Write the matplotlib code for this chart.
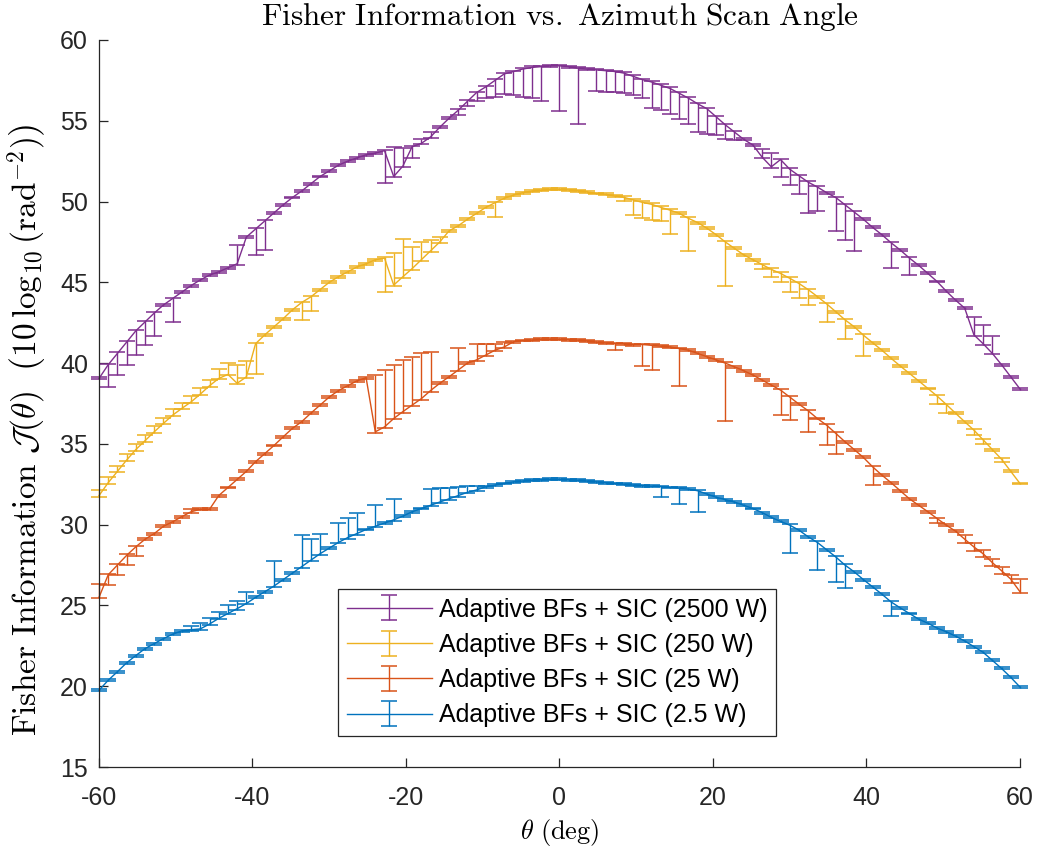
import numpy as np
import matplotlib.pyplot as plt

plt.rcParams['font.family'] = ['Liberation Sans', 'DejaVu Sans']
plt.rcParams['mathtext.fontset'] = 'cm'
plt.rcParams['axes.unicode_minus'] = False

# azimuth scan grid (deg)
theta = np.linspace(-60, 60, 101)

# mean Fisher information, 10log10(rad^-2)
fi_2500 = [39.05, 39.9, 40.6, 41.3, 42.0, 42.55, 43.1, 43.6, 44.0, 44.4,
           44.8, 45.15, 45.45, 45.65, 45.9, 46.15, 47.8, 48.3, 48.8, 49.3,
           49.8, 50.25, 50.65, 51.1, 51.55, 51.9, 52.25, 52.5, 52.7, 52.9,
           53.0, 53.15, 51.55, 52.2, 53.4, 53.6, 54.0, 54.6, 55.15, 55.65,
           56.2, 56.75, 57.1, 57.5, 57.9, 58.05, 58.2, 58.3, 58.35, 58.4,
           58.4, 58.35, 58.25, 58.2, 58.15, 58.1, 58.05, 57.95, 57.75, 57.55,
           57.4, 57.2, 57.0, 56.7, 56.4, 56.05, 55.75, 55.25, 54.75, 54.3,
           53.85, 53.5, 52.75, 52.15, 52.6, 52.0, 51.6, 51.2, 50.9, 50.55,
           50.25, 49.8, 49.35, 48.9, 48.4, 47.95, 47.45, 47.0, 46.5, 46.05,
           45.55, 45.05, 44.45, 43.9, 43.4, 41.75, 41.2, 40.6, 39.9, 39.15,
           38.4]
fi_250 = [31.8, 32.6, 33.3, 34.0, 34.65, 35.2, 35.75, 36.27, 36.78, 37.2,
          37.6, 38.08, 38.6, 39.05, 39.3, 38.75, 39.15, 41.2, 41.75, 42.25,
          42.75, 43.3, 43.75, 44.1, 44.55, 45.0, 45.35, 45.65, 45.95, 46.15,
          46.4, 46.5, 44.83, 45.35, 45.85, 46.4, 46.95, 47.5, 48.18, 48.5,
          48.9, 49.27, 49.64, 49.93, 50.2, 50.4, 50.55, 50.65, 50.7, 50.75,
          50.75, 50.72, 50.67, 50.6, 50.5, 50.45, 50.34, 50.26, 50.1, 49.95,
          49.83, 49.64, 49.47, 49.27, 48.96, 48.7, 48.35, 47.95, 47.5, 47.1,
          46.7, 46.4, 46.1, 45.8, 45.55, 45.25, 44.93, 44.55, 44.12, 43.67,
          43.18, 42.68, 42.25, 41.73, 41.26, 40.8, 40.3, 39.82, 39.36, 38.9,
          38.43, 37.96, 37.44, 36.9, 36.37, 35.85, 35.25, 34.65, 34.05, 33.3,
          32.55]
fi_25 = [25.5, 26.9, 27.5, 28.1, 28.63, 29.1, 29.45, 29.9, 30.18, 30.5,
         30.8, 30.95, 30.95, 31.8, 32.3, 32.8, 33.3, 33.9, 34.4, 34.9,
         35.44, 35.96, 36.37, 36.9, 37.4, 37.9, 38.3, 38.6, 38.9, 39.1,
         35.75, 36.05, 36.57, 37.0, 37.4, 37.8, 38.3, 38.75, 39.15, 39.57,
         40.0, 40.2, 40.5, 40.8, 41.0, 41.32, 41.4, 41.42, 41.47, 41.47,
         41.47, 41.45, 41.42, 41.38, 41.3, 41.25, 41.2, 41.2, 41.15, 41.15,
         41.1, 41.05, 41.0, 40.9, 40.8, 40.6, 40.4, 40.2, 40.0, 39.77,
         39.53, 39.26, 38.95, 38.64, 38.33, 37.9, 37.46, 37.05, 36.57, 36.16,
         35.65, 35.13, 34.65, 34.16, 33.58, 33.07, 32.6, 32.1, 31.6, 31.2,
         30.8, 30.38, 29.97, 29.6, 29.1, 28.62, 28.2, 27.65, 27.15, 26.63,
         25.85]
fi_2p5 = [19.75, 20.37, 20.9, 21.45, 21.9, 22.33, 22.64, 22.95, 23.22, 23.43,
          23.5, 23.55, 23.85, 24.2, 24.5, 24.8, 25.12, 25.5, 25.85, 26.2,
          26.6, 27.0, 27.4, 27.8, 28.2, 28.55, 28.9, 29.2, 29.45, 29.7,
          29.9, 30.1, 30.3, 30.53, 30.8, 31.0, 31.2, 31.4, 31.6, 31.8,
          32.0, 32.15, 32.35, 32.45, 32.55, 32.65, 32.7, 32.75, 32.78, 32.8,
          32.8, 32.78, 32.75, 32.7, 32.65, 32.6, 32.55, 32.5, 32.45, 32.42,
          32.38, 32.35, 32.3, 32.25, 32.2, 32.1, 31.9, 31.7, 31.55, 31.4,
          31.2, 31.0, 30.75, 30.45, 30.2, 29.97, 29.66, 29.25, 28.9, 28.45,
          28.0, 27.5, 27.08, 26.6, 26.15, 25.7, 25.22, 24.85, 24.5, 24.15,
          23.9, 23.6, 23.37, 23.1, 22.8, 22.45, 22.1, 21.6, 21.1, 20.55,
          19.95]

# spread below / above the mean at selected scan indices (dB)
lo_2500 = {1: 1.4, 2: 1.35, 3: 1.4, 4: 1.5, 5: 1.45, 6: 1.45, 8: 1.45,
           17: 1.6, 18: 1.8, 31: 2.0, 34: 0.7, 39: 0.3, 40: 0.3, 41: 0.55,
           42: 0.7, 43: 1.0, 44: 1.25, 45: 1.45, 46: 1.75, 47: 1.9, 48: 2.15,
           50: 2.8, 52: 3.45, 54: 1.3, 55: 1.3, 56: 1.25, 57: 1.25, 58: 1.15,
           59: 1.15, 60: 1.6, 61: 1.55, 62: 1.6, 63: 1.6, 64: 1.6, 65: 1.75,
           66: 1.55, 67: 1.1, 68: 0.85, 69: 0.5, 74: 1.1, 75: 1.0, 76: 1.15,
           77: 1.9, 78: 1.5, 80: 2.1, 81: 2.2, 82: 2.4, 86: 1.55, 88: 1.05}
hi_2500 = {15: 1.15, 32: 1.8, 33: 1.1, 35: 0.25, 36: 0.3, 72: 0.5, 73: 0.85,
           95: 1.1, 96: 1.15, 97: 1.1}
lo_250 = {17: 1.85, 22: 1.1, 23: 0.9, 31: 2.1, 43: 0.87, 57: 0.25, 58: 0.95,
          59: 0.95, 60: 1.0, 61: 0.85, 62: 1.45, 64: 2.0, 68: 2.7, 72: 0.3,
          73: 0.45, 74: 0.55, 75: 0.83, 76: 0.93, 77: 0.96, 79: 1.14,
          81: 1.17, 83: 1.3, 91: 0.5, 92: 0.55, 95: 0.3, 96: 0.25, 98: 0.2}
hi_250 = {0: 0.35, 1: 0.35, 2: 0.35, 3: 0.35, 4: 0.35, 5: 0.35, 6: 0.35,
          7: 0.35, 8: 0.35, 9: 0.35, 10: 0.35, 11: 0.35, 12: 0.35, 13: 0.6,
          14: 0.7, 15: 1.15, 16: 0.95, 32: 2.0, 33: 2.35, 34: 1.35, 35: 1.07,
          36: 0.65, 37: 0.3}
lo_25 = {1: 0.65, 2: 0.6, 3: 0.6, 4: 0.6, 56: 0.4, 59: 1.3, 60: 1.5,
         63: 2.3, 68: 3.6, 74: 1.55, 75: 1.4, 77: 1.3, 79: 1.25, 80: 1.25,
         84: 1.13, 91: 0.3, 94: 0.23, 95: 0.23, 96: 0.23, 97: 0.23,
         98: 0.23, 99: 0.23}
hi_25 = {0: 0.85, 10: 0.2, 30: 3.5, 31: 3.52, 32: 3.3, 33: 3.2, 34: 3.0,
         35: 2.8, 36: 2.4, 39: 1.38, 41: 1.0, 42: 0.7, 43: 0.4, 44: 0.3,
         94: 0.23, 95: 0.23, 96: 0.23, 97: 0.23, 98: 0.23, 99: 0.23,
         100: 0.8}
lo_2p5 = {61: 0.65, 63: 0.95, 65: 1.3, 75: 1.7, 78: 1.7, 80: 1.55, 81: 1.4,
          86: 0.9}
hi_2p5 = {10: 0.2, 11: 0.35, 12: 0.38, 13: 0.4, 14: 0.5, 15: 0.5, 16: 0.7,
          19: 1.55, 22: 1.95, 23: 1.3, 24: 1.25, 26: 1.2, 27: 1.2, 28: 1.3,
          30: 1.3, 32: 1.3, 36: 1.0, 37: 0.85, 38: 0.7, 39: 0.55, 40: 0.4,
          41: 0.25}

labels = ['Adaptive BFs + SIC (2500 W)', 'Adaptive BFs + SIC (250 W)',
          'Adaptive BFs + SIC (25 W)', 'Adaptive BFs + SIC (2.5 W)']
colors = ['#7E2F8E', '#EDB120', '#D95319', '#0072BD']


def spread(spec, n, base=0.06):
    e = np.full(n, base)
    for k, v in spec.items():
        e[k] = v
    return e


series = [(fi_2500, lo_2500, hi_2500), (fi_250, lo_250, hi_250),
          (fi_25, lo_25, hi_25), (fi_2p5, lo_2p5, hi_2p5)]

fig = plt.figure(figsize=(10.41, 8.51), dpi=100)
ax = fig.add_axes([0.0951, 0.0987, 0.8847, 0.8543])

n = len(theta)
for (y, lo, hi), lab, c in zip(series, labels, colors):
    eb = ax.errorbar(theta, y, yerr=[spread(lo, n), spread(hi, n)],
                     color=c, lw=1.0, elinewidth=1.0, capsize=6,
                     capthick=1.1, label=lab)
    eb.lines[0].set_clip_on(False)
    for art in eb.lines[1] + eb.lines[2]:
        art.set_clip_on(False)

ax.set_xlim(-60, 60)
ax.set_ylim(15, 60)
ax.set_xticks(np.arange(-60, 61, 20))
ax.set_yticks(np.arange(15, 61, 5))
ax.spines['top'].set_visible(False)
ax.spines['right'].set_visible(False)
for s in ('left', 'bottom'):
    ax.spines[s].set_color('#262626')
    ax.spines[s].set_linewidth(0.9)
ax.tick_params(direction='in', length=6.5, width=0.9, colors='#262626',
               labelsize=18, labelcolor='#262626')
ax.tick_params(axis='y', pad=8)
ax.tick_params(axis='x', pad=13.5)

ax.set_title(r'$\mathrm{Fisher\ Information\ vs.\ Azimuth\ Scan\ Angle}$',
             fontsize=22.5, pad=11)
ax.set_xlabel(r'$\theta\ \mathrm{(deg)}$', fontsize=19, labelpad=5)
ax.set_ylabel(r'$\mathrm{Fisher\ Information}\ \mathcal{J}(\theta)\ \ '
              r'\left(10\,\log_{10}(\mathrm{rad}^{-2})\right)$',
              fontsize=24)
ax.yaxis.set_label_coords(-0.053, 0.4635)

leg = ax.legend(loc='lower left', bbox_to_anchor=(0.2595, 0.0426),
                borderaxespad=0, fontsize=18, handlelength=3.4,
                labelspacing=0.45, fancybox=False, framealpha=1,
                edgecolor='#262626', borderpad=0.35, handletextpad=0.28)
leg.get_frame().set_linewidth(0.9)

fig.savefig('out.png', dpi=100)
